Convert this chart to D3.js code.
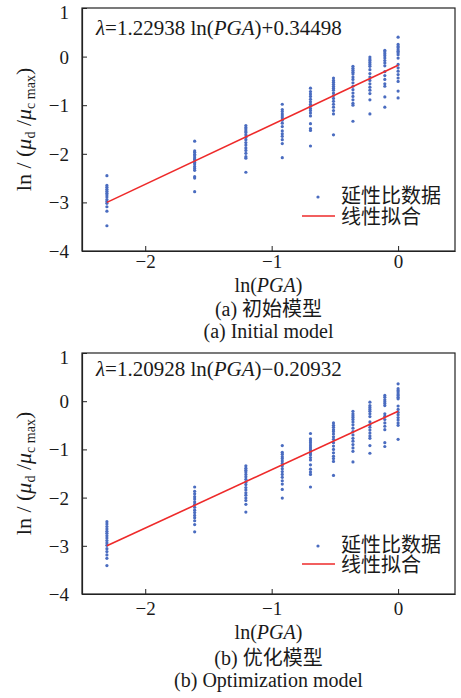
<!DOCTYPE html>
<html>
<head>
<meta charset="utf-8">
<script src="https://cdn.jsdelivr.net/npm/d3@7"></script>
<style>
  body { margin: 0; background: #fff; }
  svg { display: block; }
  text { font-family: "Liberation Serif", "Times New Roman", "Noto Sans CJK SC", serif; fill: #1a1a1a; }
</style>
</head>
<body>
<div id="chart"></div>
<script>
// ln(PGA) for PGA = 0.1g ... 1.0g
const lnPGA = [-2.303, -1.609, -1.204, -0.916, -0.693, -0.511, -0.357, -0.223, -0.105, 0];

// ln(mu_d / mu_c max), one column of points for each PGA level
const initialData = [
  [-2.45, -2.65, -2.69, -2.73, -2.77, -2.81, -2.85, -2.89, -2.94, -2.98, -3.02, -3.09, -3.18, -3.48],
  [-1.74, -1.94, -1.97, -2.01, -2.04, -2.08, -2.11, -2.15, -2.18, -2.21, -2.26, -2.30, -2.34, -2.47, -2.50, -2.78],
  [-1.42, -1.46, -1.49, -1.53, -1.56, -1.61, -1.66, -1.71, -1.77, -1.82, -1.88, -1.93, -1.99, -2.06, -2.09, -2.38],
  [-0.98, -1.09, -1.13, -1.18, -1.22, -1.26, -1.31, -1.37, -1.44, -1.53, -1.59, -1.64, -1.71, -1.79, -2.08],
  [-0.65, -0.72, -0.77, -0.82, -0.88, -0.93, -0.98, -1.02, -1.07, -1.11, -1.16, -1.22, -1.38, -1.48, -1.52, -1.84],
  [-0.44, -0.49, -0.53, -0.57, -0.61, -0.65, -0.69, -0.75, -0.80, -0.86, -0.92, -0.98, -1.04, -1.11, -1.18, -1.61],
  [-0.20, -0.24, -0.28, -0.32, -0.36, -0.42, -0.47, -0.54, -0.61, -0.68, -0.75, -0.82, -0.89, -0.96, -1.00, -1.33],
  [-0.01, -0.05, -0.08, -0.12, -0.16, -0.20, -0.27, -0.35, -0.42, -0.49, -0.56, -0.63, -0.69, -0.76, -0.89, -1.18],
  [0.13, 0.10, 0.06, 0.02, -0.03, -0.08, -0.13, -0.19, -0.31, -0.39, -0.47, -0.56, -0.61, -0.83, -1.04],
  [0.40, 0.25, 0.21, 0.18, 0.14, 0.11, 0.08, 0.04, -0.03, -0.16, -0.23, -0.30, -0.37, -0.44, -0.51, -0.71, -0.85]
];

const optimizedData = [
  [-2.50, -2.55, -2.60, -2.65, -2.70, -2.74, -2.79, -2.84, -2.89, -2.94, -2.99, -3.06, -3.12, -3.19, -3.26, -3.41],
  [-1.78, -1.87, -1.92, -1.98, -2.03, -2.09, -2.14, -2.20, -2.26, -2.31, -2.37, -2.42, -2.48, -2.56, -2.71],
  [-1.34, -1.39, -1.43, -1.47, -1.52, -1.57, -1.62, -1.68, -1.73, -1.79, -1.84, -1.90, -1.95, -2.01, -2.06, -2.14, -2.30],
  [-0.92, -1.06, -1.10, -1.15, -1.19, -1.24, -1.29, -1.34, -1.40, -1.46, -1.52, -1.58, -1.65, -1.72, -1.83, -2.01],
  [-0.67, -0.78, -0.82, -0.86, -0.91, -0.95, -0.99, -1.03, -1.07, -1.11, -1.17, -1.22, -1.32, -1.41, -1.47, -1.52, -1.78],
  [-0.45, -0.50, -0.54, -0.59, -0.63, -0.68, -0.74, -0.79, -0.86, -0.93, -1.00, -1.07, -1.14, -1.19, -1.25, -1.54],
  [-0.21, -0.26, -0.30, -0.34, -0.38, -0.43, -0.49, -0.56, -0.63, -0.70, -0.77, -0.83, -0.90, -0.97, -1.04, -1.26],
  [-0.02, -0.09, -0.13, -0.17, -0.21, -0.26, -0.32, -0.43, -0.49, -0.54, -0.60, -0.66, -0.72, -0.77, -0.92, -1.08],
  [0.12, 0.08, 0.03, -0.01, -0.05, -0.09, -0.26, -0.31, -0.38, -0.45, -0.52, -0.59, -0.86, -0.94],
  [0.36, 0.26, 0.22, 0.19, 0.15, 0.12, 0.08, 0.05, -0.10, -0.17, -0.23, -0.28, -0.34, -0.39, -0.45, -0.50, -0.79]
];

// fitted lines, end points as drawn
const fitX = [-2.303, 0];
const initialFitY = [-3.00, -0.18];
const optimizedFitY = [-3.00, -0.21];

const xTicks = [-2, -1, 0];
const yTicks = [-4, -3, -2, -1, 0, 1];
const legendLabels = ["延性比数据", "线性拟合"];

const dotColor = "#4a6cc0";
const lineColor = "#ee2a2a";
const serif = '"Liberation Serif", "Times New Roman", serif';

const svg = d3.select("#chart").append("svg")
    .attr("width", 461)
    .attr("height", 698);

function drawPanel(p) {
    let x = d3.scaleLinear().domain([-2.5, 0.45]).range([82, 455]);
    let y = d3.scaleLinear().domain([-4, 1]).range([p.bottom, p.top]);

    let g = svg.append("g");

    // frame
    g.append("rect")
        .attr("x", x.range()[0]).attr("y", p.top)
        .attr("width", x.range()[1] - x.range()[0])
        .attr("height", p.bottom - p.top)
        .attr("fill", "none").attr("stroke", "#222").attr("stroke-width", 1.2);

    // axes (ticks pointing inward)
    let yAxis = d3.axisLeft(y).tickValues(yTicks).tickFormat(d3.format("d"))
        .tickSizeInner(-5).tickSizeOuter(0).tickPadding(13);
    let yg = g.append("g").attr("transform", "translate(" + x.range()[0] + ",0)").call(yAxis);
    yg.select(".domain").attr("stroke", "#222").attr("stroke-width", 1.2);
    yg.selectAll(".tick line").attr("stroke", "#222");
    yg.selectAll(".tick text").style("font-family", serif).style("font-size", "19px").attr("fill", "#1a1a1a")
        .attr("dy", d => d === 1 ? "0.55em" : "0.34em");

    let xAxis = d3.axisBottom(x).tickValues(xTicks).tickFormat(d3.format("d"))
        .tickSizeInner(-5).tickSizeOuter(0).tickPadding(p.xPad);
    let xg = g.append("g").attr("transform", "translate(0," + p.bottom + ")").call(xAxis);
    xg.select(".domain").attr("stroke", "#222").attr("stroke-width", 1.2);
    xg.selectAll(".tick line").attr("stroke", "#222");
    xg.selectAll(".tick text").style("font-family", serif).style("font-size", "19px").attr("fill", "#1a1a1a");

    // data points
    let pts = [];
    p.data.forEach((col, i) => col.forEach(v => pts.push({x: lnPGA[i], y: v})));
    g.selectAll("circle.pt").data(pts).enter().append("circle")
        .attr("class", "pt")
        .attr("cx", d => x(d.x))
        .attr("cy", d => y(d.y))
        .attr("r", 1.6)
        .attr("fill", dotColor);

    // fit line
    g.append("path")
        .datum(fitX.map((v, i) => [v, p.fitY[i]]))
        .attr("d", d3.line().x(d => x(d[0])).y(d => y(d[1])))
        .attr("stroke", lineColor).attr("stroke-width", 1.6).attr("fill", "none");

    // equation
    let eq = g.append("text").attr("x", 96).attr("y", p.eqY).attr("font-size", 21);
    eq.append("tspan").attr("font-style", "italic").text("λ");
    eq.append("tspan").text("=" + p.slope + " ln(");
    eq.append("tspan").attr("font-style", "italic").text("PGA");
    eq.append("tspan").text(")" + p.intercept);

    // legend
    g.append("circle").attr("cx", 318).attr("cy", p.legDot).attr("r", 1.6).attr("fill", dotColor);
    g.append("text").attr("x", 341).attr("y", p.legDot + 6).attr("font-size", 20)
        .attr("font-family", "Noto Sans CJK SC").text(legendLabels[0]);
    g.append("line").attr("x1", 302).attr("x2", 335).attr("y1", p.legLine).attr("y2", p.legLine)
        .attr("stroke", lineColor).attr("stroke-width", 1.6);
    g.append("text").attr("x", 341).attr("y", p.legLine + 8).attr("font-size", 20)
        .attr("font-family", "Noto Sans CJK SC").text(legendLabels[1]);

    // y title
    let cy = (p.top + p.bottom) / 2;
    let yt = g.append("text")
        .attr("transform", "translate(31," + cy + ") rotate(-90)")
        .attr("text-anchor", "middle").attr("font-size", 22);
    yt.append("tspan").text("ln / (");
    yt.append("tspan").attr("font-style", "italic").text("μ");
    yt.append("tspan").attr("font-size", 14).attr("dy", 4).text("d");
    yt.append("tspan").attr("dy", -4).text(" /");
    yt.append("tspan").attr("font-style", "italic").text("μ");
    yt.append("tspan").attr("font-size", 14).attr("dy", 4).text("c max");
    yt.append("tspan").attr("dy", -4).text(")");

    // x title and captions
    let cx = (x.range()[0] + x.range()[1]) / 2;
    let xt = g.append("text").attr("x", cx).attr("y", p.xTitleY).attr("text-anchor", "middle").attr("font-size", 20);
    xt.append("tspan").text("ln(");
    xt.append("tspan").attr("font-style", "italic").text("PGA");
    xt.append("tspan").text(")");

    g.append("text").attr("x", cx).attr("y", p.cap1Y).attr("text-anchor", "middle").attr("font-size", 20).text(p.cap1);
    g.append("text").attr("x", cx).attr("y", p.cap2Y).attr("text-anchor", "middle").attr("font-size", 20).text(p.cap2);
}

drawPanel({
    top: 8, bottom: 251, xPad: 4,
    data: initialData, fitY: initialFitY,
    slope: "1.22938", intercept: "+0.34498", eqY: 35,
    legDot: 197, legLine: 216,
    xTitleY: 292, cap1Y: 316, cap2Y: 338,
    cap1: "(a) 初始模型", cap2: "(a) Initial model"
});

drawPanel({
    top: 353, bottom: 594, xPad: 8,
    data: optimizedData, fitY: optimizedFitY,
    slope: "1.20928", intercept: "−0.20932", eqY: 376,
    legDot: 546, legLine: 564,
    xTitleY: 639, cap1Y: 665, cap2Y: 687,
    cap1: "(b) 优化模型", cap2: "(b) Optimization model"
});
</script>
</body>
</html>
